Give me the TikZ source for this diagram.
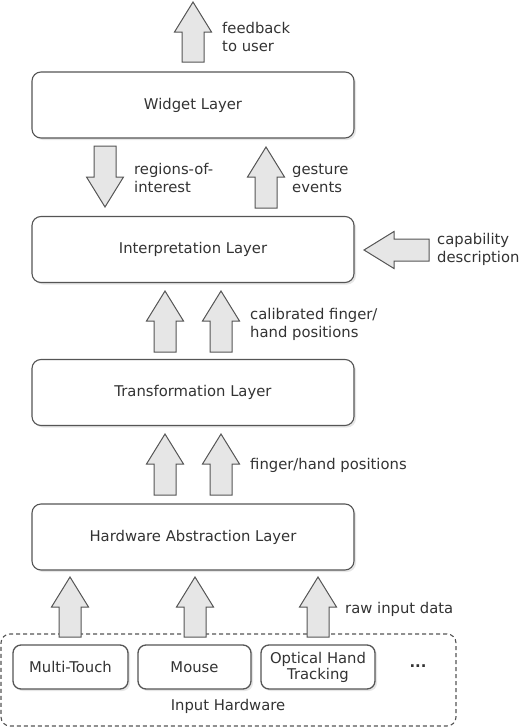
\documentclass[tikz,border=0pt]{standalone}
\usepackage{fontspec}
\setmainfont{DejaVu Sans}
\usetikzlibrary{shadows}
\definecolor{edge}{HTML}{555555}
\definecolor{ink}{HTML}{333333}
\definecolor{arrowfill}{HTML}{E6E6E6}
\tikzset{
  pics/blockarrow/.style={code={
    \draw[draw=edge, fill=arrowfill, line width=1pt, line join=miter]
      (0,-11) -- ({#1-30},-11) -- ({#1-30},-18.5) -- (#1,0)
      -- ({#1-30},18.5) -- ({#1-30},11) -- (0,11) -- cycle;
  }},
}
\begin{document}
\begin{tikzpicture}[x=1pt, y=-1pt,
  font=\fontsize{14.8}{18}\selectfont, text=ink,
  layerbox/.style={draw=edge, line width=1.1pt, rounded corners=9pt,
    minimum width=322pt, minimum height=66pt, fill=white,
    drop shadow={shadow xshift=2pt, shadow yshift=-2pt, opacity=0.2}},
  devbox/.style={draw=edge, line width=1.3pt, rounded corners=8pt,
    minimum height=44pt, fill=white, align=center, inner sep=0pt,
    drop shadow={shadow xshift=2pt, shadow yshift=-2pt, opacity=0.2}},
  lbl/.style={anchor=west, align=left, inner sep=0pt},
  frame/.style={draw=edge, line width=1.1pt, dash pattern=on 4pt off 3pt,
    rounded corners=9pt, minimum width=455pt, minimum height=92pt},
]
\useasboundingbox (0,0) rectangle (522,728);

% layers
\node[layerbox] (widget) at (193,105)   {Widget Layer};
\node[layerbox] (interp) at (193,249.5) {Interpretation Layer};
\node[layerbox] (transf) at (193,392.5) {Transformation Layer};
\node[layerbox] (hal)    at (193,537)   {Hardware Abstraction Layer};

% input hardware group
\node[frame] (inhw) at (228.5,680) {};
\node[devbox, minimum width=115pt] (touch)   at (70.5,667)  {Multi-Touch};
\node[devbox, minimum width=113pt] (mouse)   at (194.5,667) {Mouse};
\node[devbox, minimum width=114pt] (optical) at (318,667)   {Optical Hand\\[-2pt]Tracking};
\node[font=\fontsize{14.8}{18}\selectfont\bfseries] (more) at (418,666) {...};
\node (inhwlbl) at (228,706) {Input Hardware};

% flow arrows
\pic[rotate=90]  at (193,62)  {blockarrow=60};
\pic[rotate=-90] at (105,146) {blockarrow=61};
\pic[rotate=90]  at (266,208) {blockarrow=61};
\pic[rotate=180] at (429,250) {blockarrow=65};
\pic[rotate=90]  at (165,352) {blockarrow=61};
\pic[rotate=90]  at (221,352) {blockarrow=61};
\pic[rotate=90]  at (165,495) {blockarrow=61};
\pic[rotate=90]  at (221,495) {blockarrow=61};
\pic[rotate=90]  at (70,637)  {blockarrow=60};
\pic[rotate=90]  at (195,637) {blockarrow=60};
\pic[rotate=90]  at (318,637) {blockarrow=60};

% arrow labels
\node[lbl] (l1) at (222,37)  {feedback\\to user};
\node[lbl] (l2) at (134,178) {regions-of-\\interest};
\node[lbl] (l3) at (292,178) {gesture\\events};
\node[lbl] (l4) at (437,249) {capability\\description};
\node[lbl] (l5) at (250,324) {calibrated finger/\\hand positions};
\node[lbl] (l6) at (250,465) {finger/hand positions};
\node[lbl] (l7) at (345,609) {raw input data};
\end{tikzpicture}
\end{document}
